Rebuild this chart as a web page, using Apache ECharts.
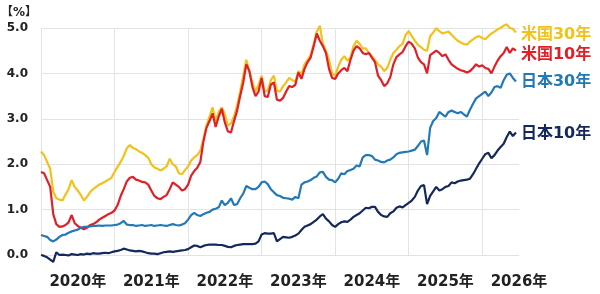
<!DOCTYPE html>
<html>
<head>
<meta charset="utf-8">
<script src="https://cdn.jsdelivr.net/npm/echarts@6/dist/echarts.min.js"></script>
<style>
html,body{margin:0;padding:0;background:#fff;}
#chart{width:600px;height:294px;}
</style>
</head>
<body>
<div id="chart"></div>
<script>
// half-month samples, one row per year
var yearLabels = ['2020年','2021年','2022年','2023年','2024年','2025年','2026年'];
var yTickLabels = ['0.0','1.0','2.0','3.0','4.0','5.0'];
var seriesNames = ['米国30年','米国10年','日本30年','日本10年'];

var us30 = [
	2.28,2.2,2.05,1.9,1.4,1.25,1.22,1.2,1.33,1.45,1.65,1.5,1.42,1.32,1.2,1.28,1.38,1.45,1.5,1.55,1.58,1.62,1.66,1.7,
	1.83,1.94,2.05,2.18,2.35,2.42,2.36,2.33,2.28,2.25,2.2,2.14,2.0,1.93,1.9,1.86,1.9,1.95,2.12,2.0,1.95,1.8,1.78,1.87,
	1.95,2.08,2.15,2.2,2.3,2.55,2.85,3.05,3.25,2.95,3.15,3.25,3.1,2.85,2.9,3.05,3.3,3.6,3.95,4.3,4.05,3.8,3.6,3.75,
	3.95,3.6,3.62,3.85,3.95,3.62,3.6,3.72,3.8,3.9,3.85,3.82,4.05,3.98,4.2,4.3,4.4,4.65,4.92,5.05,4.65,4.5,4.3,4.0,
	3.95,4.15,4.3,4.38,4.28,4.35,4.6,4.72,4.65,4.55,4.55,4.45,4.38,4.3,4.2,4.15,4.05,4.12,4.3,4.45,4.52,4.6,4.65,4.85,
	4.93,4.82,4.72,4.63,4.58,4.52,4.5,4.82,4.9,5.0,4.93,4.88,4.9,4.92,4.85,4.78,4.72,4.68,4.65,4.63,4.7,4.75,4.8,4.82,
	4.78,4.75,4.82,4.88,4.92,4.97,5.0,5.05,5.08,5.0,4.98,4.9
];
var us10 = [
	1.83,1.8,1.65,1.5,0.9,0.68,0.62,0.63,0.66,0.72,0.88,0.7,0.64,0.6,0.57,0.6,0.66,0.68,0.72,0.78,0.82,0.86,0.9,0.93,
	0.98,1.1,1.3,1.45,1.62,1.7,1.72,1.66,1.64,1.61,1.6,1.55,1.42,1.3,1.25,1.23,1.28,1.32,1.45,1.6,1.55,1.5,1.42,1.45,
	1.55,1.75,1.85,1.92,2.05,2.5,2.8,2.95,3.12,2.82,3.05,3.22,2.92,2.72,2.7,2.95,3.18,3.5,3.8,4.2,4.05,3.7,3.5,3.6,
	3.9,3.5,3.48,3.75,3.8,3.42,3.4,3.46,3.6,3.72,3.7,3.75,4.02,3.88,4.1,4.25,4.35,4.6,4.88,4.72,4.6,4.45,4.1,3.9,
	3.88,4.0,4.07,4.12,4.05,4.3,4.5,4.6,4.55,4.45,4.42,4.45,4.35,4.25,3.95,3.85,3.72,3.78,3.92,4.2,4.36,4.42,4.47,4.6,
	4.7,4.65,4.55,4.35,4.25,4.2,4.0,4.4,4.45,4.5,4.45,4.38,4.42,4.3,4.2,4.15,4.1,4.07,4.05,4.02,4.05,4.12,4.2,4.15,
	4.18,4.12,4.1,4.0,4.15,4.28,4.38,4.45,4.58,4.45,4.55,4.5
];
var jp30 = [
	0.44,0.42,0.4,0.33,0.3,0.34,0.4,0.44,0.45,0.49,0.52,0.54,0.56,0.6,0.62,0.62,0.63,0.64,0.64,0.65,0.64,0.65,0.65,0.65,
	0.66,0.67,0.7,0.75,0.67,0.66,0.66,0.64,0.65,0.66,0.64,0.65,0.66,0.64,0.65,0.66,0.65,0.64,0.66,0.68,0.66,0.65,0.67,0.7,
	0.78,0.88,0.93,0.88,0.86,0.9,0.93,0.95,1.0,1.02,1.05,1.2,1.1,1.15,1.25,1.1,1.12,1.25,1.35,1.52,1.48,1.45,1.45,1.5,
	1.6,1.62,1.56,1.45,1.38,1.32,1.3,1.26,1.25,1.24,1.22,1.28,1.25,1.55,1.6,1.62,1.65,1.7,1.73,1.82,1.83,1.72,1.66,1.65,
	1.6,1.68,1.8,1.78,1.85,1.87,1.9,1.97,1.95,2.15,2.2,2.2,2.18,2.1,2.08,2.05,2.04,2.08,2.1,2.15,2.22,2.25,2.26,2.27,
	2.28,2.3,2.32,2.4,2.5,2.52,2.2,2.8,2.95,3.02,3.15,3.1,3.05,3.15,3.18,3.15,3.12,3.15,3.1,3.05,3.2,3.33,3.45,3.5,
	3.55,3.6,3.5,3.58,3.7,3.72,3.68,3.85,3.97,4.0,3.9,3.82
];
var jp10 = [
	0.0,-0.02,-0.05,-0.1,-0.15,0.06,0.0,0.01,0.0,-0.01,0.02,0.01,0.0,0.02,0.01,0.03,0.02,0.04,0.03,0.03,0.04,0.05,0.04,0.06,
	0.08,0.09,0.11,0.14,0.12,0.1,0.09,0.08,0.09,0.08,0.06,0.04,0.03,0.03,0.02,0.04,0.06,0.07,0.08,0.07,0.08,0.09,0.1,0.11,
	0.13,0.17,0.21,0.2,0.17,0.2,0.22,0.23,0.23,0.23,0.22,0.22,0.2,0.18,0.17,0.2,0.22,0.23,0.24,0.24,0.24,0.24,0.25,0.3,
	0.45,0.48,0.47,0.47,0.48,0.3,0.35,0.4,0.39,0.38,0.4,0.43,0.47,0.55,0.62,0.65,0.68,0.73,0.78,0.85,0.9,0.8,0.74,0.66,
	0.62,0.68,0.72,0.74,0.73,0.78,0.84,0.88,0.92,0.98,1.04,1.03,1.06,1.06,0.95,0.88,0.85,0.84,0.92,0.96,1.04,1.07,1.05,1.1,
	1.15,1.2,1.28,1.42,1.52,1.54,1.12,1.3,1.4,1.5,1.42,1.45,1.5,1.52,1.6,1.58,1.62,1.64,1.65,1.66,1.68,1.78,1.9,2.02,
	2.12,2.22,2.25,2.13,2.2,2.3,2.38,2.45,2.6,2.72,2.62,2.7
];

var colors = ['#f2c21b','#e11f26','#2379b5','#15285b'];
var fontFam = "'DejaVu Sans','Noto Sans CJK JP',sans-serif";

// one category per half month, plus one spare so the axis runs to mid-2026
var categories = [];
for(var i=0;i<=us30.length;i++){
	var yr = 2020+Math.floor(i/24);
	var mo = Math.floor((i%24)/2)+1;
	categories.push(yr+'/'+(mo<10?'0':'')+mo+(i%2?'/16':'/01'));
}

function makeSeries(name,data,color,offset){
	return {
		name:name,
		type:'line',
		data:data,
		symbol:'none',
		clip:false,
		lineStyle:{color:color,width:2.2},
		itemStyle:{color:color},
		endLabel:{
			show:true,
			formatter:'{a}',
			color:color,
			fontSize:16,
			fontWeight:'bold',
			fontFamily:fontFam,
			distance:5,
			offset:offset||[0,0]
		}
	};
}

var option = {
	animation:false,
	backgroundColor:'#fff',
	grid:{left:41,right:81,top:28,bottom:39,outerBoundsMode:'none'},
	xAxis:{
		type:'category',
		data:categories,
		boundaryGap:false,
		axisLine:{show:false},
		axisTick:{show:false},
		splitLine:{
			show:true,
			interval:function(idx){return idx%24===0;},
			lineStyle:{color:'#e3e3e3',width:1}
		},
		axisLabel:{
			interval:function(idx){return idx%24===12;},
			formatter:function(v){return yearLabels[Number(v.slice(0,4))-2020];},
			color:'#222',
			fontSize:15,
			fontWeight:'bold',
			fontFamily:fontFam,
			margin:20
		}
	},
	yAxis:{
		type:'value',
		min:0,
		max:5,
		interval:1,
		name:'【%】',
		nameLocation:'end',
		nameGap:9,
		nameTextStyle:{color:'#222',fontSize:12,fontWeight:'bold',fontFamily:fontFam,align:'right',padding:[0,4,0,0]},
		axisLine:{show:false},
		axisTick:{show:false},
		splitLine:{lineStyle:{color:'#e3e3e3',width:1}},
		axisLabel:{
			formatter:function(v){return yTickLabels[Math.round(v)];},
			color:'#222',
			fontSize:12,
			fontWeight:'bold',
			fontFamily:fontFam,
			margin:13
		}
	},
	series:[
		makeSeries(seriesNames[0],us30,colors[0],[0,2]),
		makeSeries(seriesNames[1],us10,colors[1],[0,4]),
		makeSeries(seriesNames[2],jp30,colors[2]),
		makeSeries(seriesNames[3],jp10,colors[3],[0,1])
	]
};

var myChart = echarts.init(document.getElementById('chart'));
myChart.setOption(option);
</script>
</body>
</html>
